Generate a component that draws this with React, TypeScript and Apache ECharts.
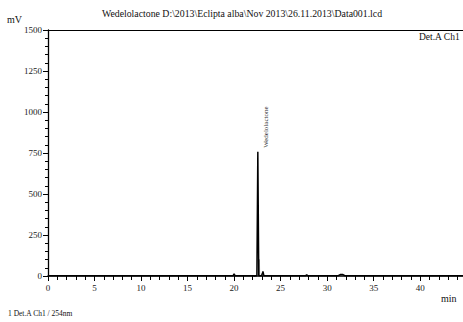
import React, { useEffect, useRef } from "react";
import * as echarts from "echarts";

const titleText = "Wedelolactone D:\\2013\\Eclipta alba\\Nov 2013\\26.11.2013\\Data001.lcd";
const yTicks = [0, 250, 500, 750, 1000, 1250, 1500];
const xLabels = [0, 5, 10, 15, 20, 25, 30, 35, 40];
const xMax = 44.6;
const peakName = "Wedelolactone";
const peakTime = 22.55;
const peakHeight = 757;
// main trace: [time (min), signal (mV)]
const traceTimes = [0, 19.9, 20.0, 20.1, 22.15, 22.2, 22.25, 22.45, 22.55, 22.65, 22.95, 23.05, 23.1, 23.2, 27.7, 27.8, 27.9, 31.2, 31.4, 31.7, 31.9, 44.6];
const traceValues = [2, 2, 14, 2, 2, -12, 2, 2, 757, 2, 2, 18, 28, 2, 2, 7, 2, 2, 9, 9, 2, 2];
// light shoulder trace
const shoulderTimes = [22.58, 22.6, 22.72, 22.75];
const shoulderValues = [0, 100, 100, 0];

export default function App() {
  const ref = useRef<HTMLDivElement>(null);
  useEffect(() => {
    if (!ref.current) return;
    const chart = echarts.init(ref.current, undefined, { renderer: "svg" });
    const font = "Liberation Serif";
    const main = traceTimes.map((t, i) => [t, traceValues[i]]);
    const shoulder = shoulderTimes.map((t, i) => [t, shoulderValues[i]]);
    chart.setOption({
      animation: false,
      backgroundColor: "#fff",
      textStyle: { fontFamily: font },
      title: {
        text: titleText,
        left: 237,
        textAlign: "center",
        top: 3,
        textStyle: { fontFamily: font, fontSize: 9.8, fontWeight: "normal", color: "#111" },
      },
      grid: {
        left: 48,
        top: 30,
        right: 0,
        height: 246,
        show: false,
        containLabel: false,
      },
      xAxis: [
        {
          type: "value",
          min: 0,
          max: xMax,
          interval: 5,
          offset: 1,
          axisLine: { show: true, lineStyle: { color: "#000", width: 1.5 } },
          axisTick: { show: true, length: 5, lineStyle: { color: "#000" } },
          minorTick: { show: true, splitNumber: 5, length: 4, lineStyle: { color: "#000" } },
          splitLine: { show: false },
          axisLabel: {
            fontFamily: font,
            fontSize: 9,
            color: "#222",
            margin: 6,
            showMaxLabel: false,
            formatter: (v: number) => (xLabels.includes(v) ? String(v) : ""),
          },
        },
        {
          type: "value",
          position: "top",
          min: 0,
          max: xMax,
          axisLine: { show: true, lineStyle: { color: "#000", width: 1.2 } },
          axisTick: { show: false },
          axisLabel: { show: false },
          splitLine: { show: false },
        },
      ],
      yAxis: {
        type: "value",
        min: yTicks[0],
        max: yTicks[yTicks.length - 1],
        interval: 250,
        axisLine: { show: true, lineStyle: { color: "#000", width: 1.3 } },
        axisTick: { show: true, length: 5, lineStyle: { color: "#000" } },
        minorTick: { show: true, splitNumber: 5, length: 3, lineStyle: { color: "#000" } },
        splitLine: { show: false },
        axisLabel: {
          fontFamily: font,
          fontSize: 9,
          color: "#222",
          margin: 6,
          formatter: (v: number) => String(v),
        },
      },
      series: [
        {
          type: "line",
          data: shoulder,
          symbol: "none",
          lineStyle: { color: "#999", width: 1 },
          areaStyle: { color: "#aaa", opacity: 1 },
          z: 1,
        },
        {
          type: "line",
          data: main,
          symbol: "none",
          lineStyle: { color: "#000", width: 1.5 },
          z: 2,
          markPoint: {
            symbol: "rect",
            symbolSize: 0,
            data: [{ coord: [peakTime, peakHeight], value: peakName }],
            label: {
              show: true,
              formatter: peakName,
              rotate: 90,
              fontFamily: font,
              fontSize: 7,
              color: "#333",
              align: "left",
              verticalAlign: "middle",
              position: "inside",
              offset: [4, 8],
            },
          },
        },
      ],
      graphic: [
        { type: "text", left: 7, top: 14, style: { text: "mV", fontFamily: font, fontSize: 10, fill: "#111" } },
        { type: "text", left: 419, top: 32, style: { text: "Det.A Ch1", fontFamily: font, fontSize: 9.5, fill: "#111" } },
        { type: "text", left: 441, top: 293, style: { text: "min", fontFamily: font, fontSize: 10, fill: "#111" } },
        { type: "text", left: 8, top: 309, style: { text: "1 Det.A Ch1 / 254nm", fontFamily: font, fontSize: 7.5, fill: "#111" } },
      ],
    });
    return () => chart.dispose();
  }, []);
  return <div ref={ref} style={{ position: "fixed", left: 0, top: 0, width: 463, height: 322 }} />;
}
